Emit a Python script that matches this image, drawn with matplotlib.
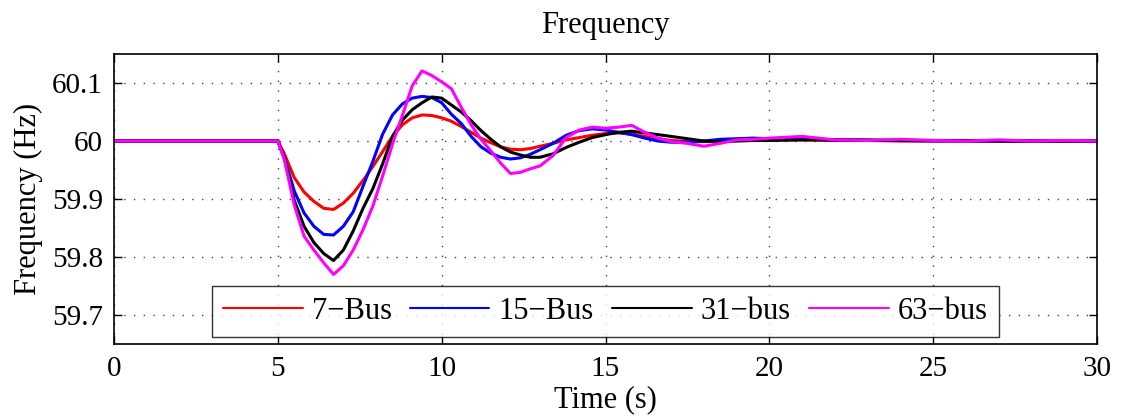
import numpy as np
import matplotlib
matplotlib.use("Agg")
import matplotlib.pyplot as plt

# time base shared by all feeder models (s)
t = [0, 5.0, 5.2, 5.5, 5.8, 6.1, 6.4, 6.7, 7.0, 7.3, 7.6, 7.9, 8.2, 8.5, 8.8,
     9.1, 9.4, 9.7, 10.0, 10.3, 10.6, 10.9, 11.2, 11.5, 11.8, 12.1, 12.4, 12.7,
     13.0, 13.4, 13.8, 14.2, 14.6, 15.0, 15.4, 15.8, 16.2, 16.6, 17.0, 17.5,
     18.0, 18.5, 19.0, 19.5, 20, 21, 22, 23, 24, 25, 26, 27, 28, 29, 30]

f_7bus = [60.0, 60.0, 59.978, 59.937, 59.912, 59.896, 59.884, 59.882, 59.893,
          59.910, 59.932, 59.956, 59.982, 60.008, 60.028, 60.040, 60.045,
          60.044, 60.040, 60.034, 60.025, 60.015, 60.005, 59.997, 59.990,
          59.986, 59.985, 59.987, 59.991, 59.996, 60.002, 60.006, 60.010,
          60.013, 60.014, 60.012, 60.008, 60.004, 60.001, 59.999, 59.999,
          60.000, 60.001, 60.002, 60.002, 60.002, 60.001, 60.001, 60.000,
          60.000, 60.000, 60.000, 60.000, 60.000, 60.000]

f_15bus = [60.0, 60.0, 59.972, 59.914, 59.876, 59.853, 59.839, 59.838, 59.853,
           59.878, 59.922, 59.965, 60.012, 60.045, 60.064, 60.074, 60.077,
           60.075, 60.066, 60.046, 60.030, 60.008, 59.990, 59.979, 59.972,
           59.969, 59.971, 59.977, 59.985, 59.996, 60.010, 60.018, 60.021,
           60.019, 60.015, 60.011, 60.005, 60.000, 59.998, 59.998, 60.000,
           60.003, 60.004, 60.005, 60.004, 60.003, 60.002, 60.001, 60.001,
           60.000, 60.000, 60.000, 60.000, 60.000, 60.000]

f_31bus = [60.0, 60.0, 59.970, 59.898, 59.853, 59.825, 59.806, 59.794, 59.812,
           59.845, 59.884, 59.918, 59.961, 60.008, 60.036, 60.054, 60.066,
           60.076, 60.074, 60.062, 60.050, 60.035, 60.018, 60.003, 59.990,
           59.981, 59.976, 59.972, 59.972, 59.978, 59.989, 59.998, 60.006,
           60.011, 60.015, 60.017, 60.014, 60.011, 60.008, 60.004, 60.000,
           59.999, 60.000, 60.001, 60.001, 60.002, 60.002, 60.002, 60.001,
           60.001, 60.001, 60.000, 60.000, 60.000, 60.000]

f_63bus = [60.0, 60.0, 59.968, 59.890, 59.836, 59.812, 59.790, 59.770, 59.785,
           59.812, 59.847, 59.888, 59.940, 59.995, 60.044, 60.095, 60.121,
           60.113, 60.102, 60.090, 60.058, 60.028, 60.003, 59.983, 59.962,
           59.944, 59.946, 59.952, 59.957, 59.975, 60.006, 60.019, 60.024,
           60.022, 60.024, 60.027, 60.015, 60.005, 59.999, 59.996, 59.991,
           59.996, 60.002, 60.003, 60.005, 60.008, 60.002, 60.001, 60.003,
           60.001, 60.000, 60.002, 60.000, 60.001, 60.000]

labels = ["7\u2212Bus", "15\u2212Bus", "31\u2212bus", "63\u2212bus"]
colors = ["#ff0000", "#0000ff", "#000000", "#ff00ff"]

plt.rcParams["font.family"] = ["Liberation Serif", "DejaVu Serif"]

fig = plt.figure(figsize=(11.21, 4.19), dpi=100)
ax = fig.add_axes([0.1017, 0.179, 0.8769, 0.692])

for y, lab, c in zip([f_7bus, f_15bus, f_31bus, f_63bus], labels, colors):
    ax.plot(t, y, color=c, linewidth=2.2, label=lab,
            solid_joinstyle="round", solid_capstyle="round")

ax.set_xlim(0, 30)
ax.set_ylim(59.65, 60.15)
ax.set_xticks(np.arange(0, 31, 5))
ax.set_yticks([59.7, 59.8, 59.9, 60.0, 60.1])
ax.set_yticklabels(["59.7", "59.8", "59.9", "60", "60.1"])
ax.tick_params(direction="in", top=True, right=True, labelsize=21, length=6, width=1)
ax.tick_params(axis="x", pad=9)
ax.tick_params(axis="y", pad=8)
ax.grid(True, linestyle=(0, (1, 6)), color="#444444", linewidth=1.0)
for s in ax.spines.values():
    s.set_linewidth(1.2)

ax.set_title("Frequency", fontsize=22, pad=15)
ax.set_xlabel("Time (s)", fontsize=22, labelpad=2)
ax.set_ylabel("Frequency (Hz)", fontsize=22, labelpad=6)

leg = ax.legend(loc="lower center", bbox_to_anchor=(0.5, 0.025), ncol=4,
                fontsize=22, frameon=True, fancybox=False, edgecolor="black",
                handlelength=2.6, columnspacing=0.6, handletextpad=0.3,
                borderpad=0.35, borderaxespad=0.0)
leg.get_frame().set_linewidth(1.0)
for h in leg.get_lines():
    h.set_linewidth(1.5)

fig.savefig("out.png", dpi=100)
